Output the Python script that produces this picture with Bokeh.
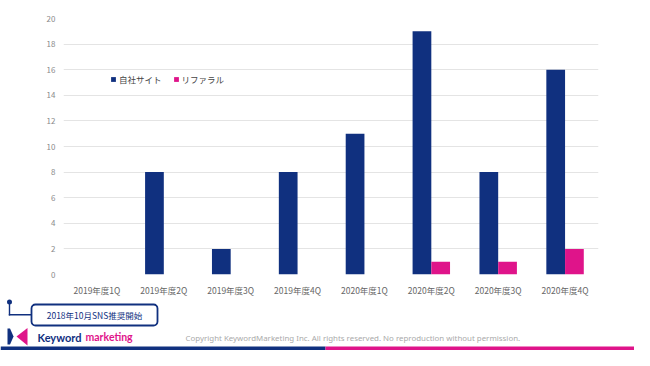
from bokeh.plotting import figure
from bokeh.layouts import column
from bokeh.models import (FactorRange, Range1d, ColumnDataSource, Legend, LegendItem, Label,
                          BoxAnnotation, PolyAnnotation)
from bokeh.transform import dodge
from bokeh.embed import file_html
from bokeh.resources import INLINE

categories = ["2019年度1Q", "2019年度2Q", "2019年度3Q", "2019年度4Q",
              "2020年度1Q", "2020年度2Q", "2020年度3Q", "2020年度4Q"]
own_site = [0, 8, 2, 8, 11, 19, 8, 16]
referral = [0, 0, 0, 0, 0, 1, 1, 2]
y_ticks = [0, 2, 4, 6, 8, 10, 12, 14, 16, 18, 20]
series_names = ["自社サイト", "リファラル"]

NAVY = "#10307f"
PINK = "#df148a"
JP = "Noto Sans CJK JP"

W = 634
H1 = 298
H2 = 350 - H1

src = ColumnDataSource(dict(cat=categories, own=own_site, ref=referral))

p = figure(width=W, height=H1, x_range=FactorRange(*categories), y_range=(0, 20),
           output_backend="svg", toolbar_location=None, frame_align=False,
           min_border_left=63, min_border_right=36, min_border_top=18, min_border_bottom=22)
p.outline_line_color = None
p.x_range.range_padding = 0

r1 = p.vbar(x=dodge("cat", -0.14, range=p.x_range), top="own", width=0.28, source=src,
            fill_color=NAVY, line_color=None)
r2 = p.vbar(x=dodge("cat", 0.14, range=p.x_range), top="ref", width=0.28, source=src,
            fill_color=PINK, line_color=None)

p.yaxis.ticker = y_ticks
p.ygrid.ticker = y_ticks
p.ygrid.grid_line_color = "#e4e4e4"
p.xgrid.grid_line_color = None
for ax in (p.xaxis, p.yaxis):
    ax.axis_line_color = None
    ax.major_tick_line_color = None
    ax.minor_tick_line_color = None
    ax.major_tick_out = 0
    ax.major_tick_in = 0
    ax.minor_tick_out = 0
    ax.major_label_text_font = JP
p.yaxis.major_label_text_font_size = "8px"
p.yaxis.major_label_text_color = "#8a8a8a"
p.yaxis.major_label_standoff = 8
p.xaxis.major_label_text_font_size = "8.5px"
p.xaxis.major_label_text_color = "#666666"
p.xaxis.major_label_standoff = 9

legend = Legend(items=[LegendItem(label=series_names[0], renderers=[r1]),
                       LegendItem(label=series_names[1], renderers=[r2])],
                location=(47, 189), orientation="horizontal",
                glyph_width=6, glyph_height=6, label_height=10, label_standoff=3,
                spacing=11, padding=0, margin=0,
                label_text_font=JP, label_text_font_size="8.5px",
                label_text_color="#444444",
                background_fill_alpha=0, border_line_color=None)
p.add_layout(legend, "center")

# ---------------- footer (pixel-like coordinates, y measured from top of page)
f = figure(width=W, height=H2, x_range=Range1d(0, W), y_range=Range1d(350, H1),
           output_backend="svg", toolbar_location=None, frame_align=False,
           x_axis_location=None, y_axis_location=None,
           min_border_left=0, min_border_right=0, min_border_top=0, min_border_bottom=0)
f.outline_line_color = None
f.grid.grid_line_color = None

def box(l, r, t, b, color, **kw):
    f.add_layout(BoxAnnotation(left=l, right=r, top=t, bottom=b, fill_color=color,
                               fill_alpha=1, line_color=None, **kw))

# connector dot + lines
box(6.5, 11.5, 299, 304, NAVY, border_radius=3)
box(8.3, 9.7, 301, 315, NAVY)
box(8.3, 31, 313.6, 315, NAVY)
f.add_layout(BoxAnnotation(left=31, right=157, top=304, bottom=325, fill_color="white",
                           fill_alpha=1, line_color=NAVY, line_alpha=1, line_width=1.8,
                           border_radius=4))
f.add_layout(Label(x=94, y=314.5, text="2018年10月SNS推奨開始", text_font=JP,
                   text_font_size="8.5px", text_color=NAVY, text_align="center",
                   text_baseline="middle"))

# logo
f.add_layout(PolyAnnotation(xs=[7, 9.5, 13, 9.5, 7], ys=[328, 328, 336, 344, 344],
                            fill_color=NAVY, fill_alpha=1, line_color=None))
f.add_layout(PolyAnnotation(xs=[16, 27, 27], ys=[336, 327.5, 345],
                            fill_color=PINK, fill_alpha=1, line_color=None))
f.add_layout(Label(x=37, y=336.5, text="Keyword", text_font="Lato", text_font_size="11px",
                   text_font_style="bold", text_color=NAVY, text_baseline="middle"))
f.add_layout(Label(x=85, y=336.5, text="marketing", text_font="Lato", text_font_size="10.5px",
                   text_font_style="bold", text_color=PINK, text_baseline="middle"))
f.add_layout(Label(x=185, y=337.5,
                   text="Copyright KeywordMarketing Inc. All rights reserved. No reproduction without permission.",
                   text_font="Noto Sans", text_font_size="7.9px", text_color="#aaaaaa",
                   text_baseline="middle"))

# bottom bar
box(0, 325, 346, 350, NAVY)
box(325, W, 346, 350, PINK)

layout = column(p, f, spacing=0)
open("out.html", "w").write(file_html(layout, INLINE))
